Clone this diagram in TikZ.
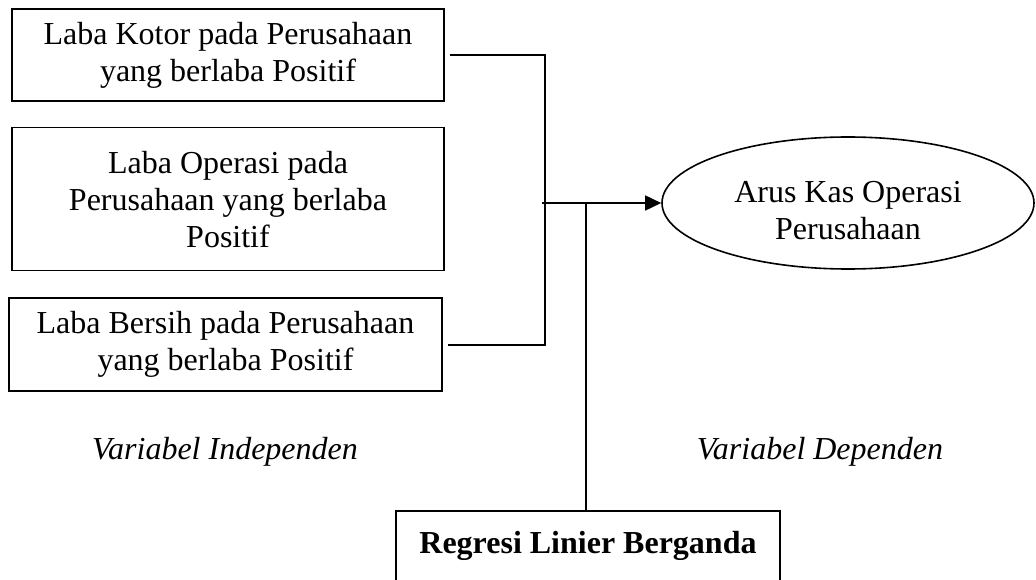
\documentclass[tikz,border=0pt]{standalone}
\usepackage{fontspec}
\setmainfont{Liberation Serif}
\usetikzlibrary{positioning,shapes.geometric,arrows.meta}

\begin{document}
\begin{tikzpicture}[x=1pt,y=-1pt,line width=1.6pt,
	>={Triangle[length=16pt,width=15pt]},
	every node/.style={font=\fontsize{32}{37}\selectfont,align=center},
	varbox/.style={shape=rectangle,draw,minimum width=432pt,inner sep=0pt},
	depvar/.style={ellipse,draw,minimum width=372pt,minimum height=132pt,inner sep=0pt}]
    \clip (0,0) rectangle (1036,580);
    % create the nodes
    \node (kotor) [varbox,minimum height=92pt] at (228,55) {Laba Kotor pada Perusahaan\\yang berlaba Positif};
    \node (operasi) [varbox,minimum height=143pt,below=25pt of kotor] {Laba Operasi pada\\Perusahaan yang berlaba\\Positif};
    \node (bersih) [varbox,minimum height=93pt,minimum width=433pt,below=26pt of operasi,xshift=-2.5pt] {Laba Bersih pada Perusahaan\\yang berlaba Positif};
    \node (arus) [depvar] at (848,203) {\rule{0pt}{36pt}Arus Kas Operasi\\Perusahaan};
    \node (regresi) [draw,anchor=base,minimum width=384pt,inner ysep=0pt,text height=42pt,text depth=60pt] at (588,553) {\textbf{Regresi Linier Berganda}};
    \node (indep) at (225,452) {\itshape Variabel Independen};
    \node (dep) at (820,452) {\itshape Variabel Dependen};
    \coordinate (bus) at (545,203);
    \coordinate (tap) at (586,203);
    % connect the nodes
    \draw ([xshift=5pt]kotor.east) -| (bus);
    \draw ([xshift=5pt]bersih.east) -| (bus);
    \draw[->] ([xshift=-3pt]bus) -- (arus.west);
    \draw (tap) -- (tap |- regresi.north);
\end{tikzpicture}
\end{document}
